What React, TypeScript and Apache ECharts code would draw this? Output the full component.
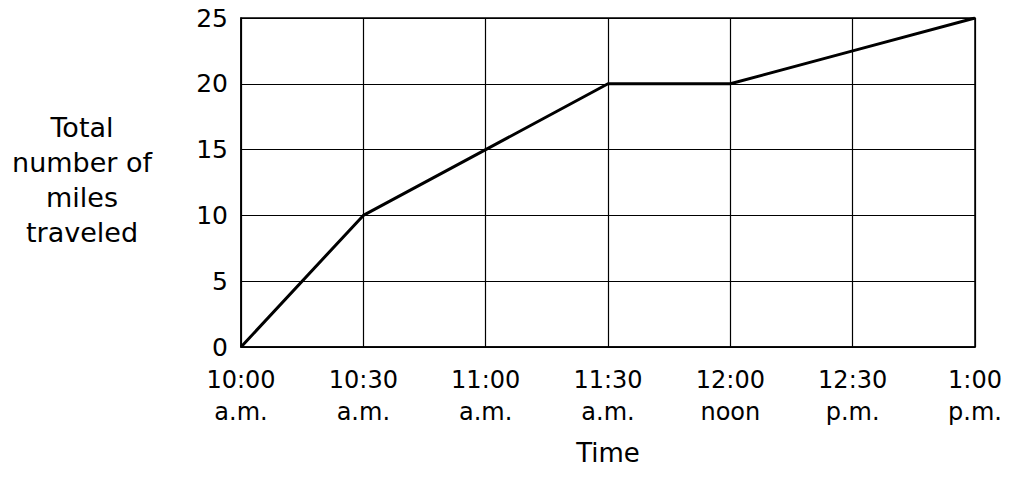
import React, { useEffect, useRef } from "react";
import * as echarts from "echarts";

const categories = ["10:00\na.m.", "10:30\na.m.", "11:00\na.m.", "11:30\na.m.", "12:00\nnoon", "12:30\np.m.", "1:00\np.m."];
const miles = [0, 10, 15, 20, 20, 22.5, 25];
const yTicks = [0, 5, 10, 15, 20, 25];
const yTitle = "Total\nnumber of\nmiles\ntraveled";
const xTitle = "Time";

export default function App() {
  const ref = useRef<HTMLDivElement>(null);
  useEffect(() => {
    if (!ref.current) return;
    const chart = echarts.init(ref.current, null, { renderer: "svg" });
    const font = "'DejaVu Sans', 'Liberation Sans', Arial, sans-serif";
    chart.setOption({
      animation: false,
      backgroundColor: "#ffffff",
      textStyle: { fontFamily: font },
      grid: { left: 241, right: 39, top: 18, bottom: 133, show: true, borderColor: "#000", borderWidth: 1.5 },
      xAxis: {
        type: "category",
        data: categories,
        boundaryGap: false,
        axisLine: { show: true, lineStyle: { color: "#000", width: 1.5 } },
        axisTick: { show: false },
        axisLabel: { color: "#000", fontSize: 24, lineHeight: 32, margin: 17, fontFamily: font },
        splitLine: { show: true, lineStyle: { color: "#000", width: 1.2 } },
        name: xTitle,
        nameLocation: "middle",
        nameGap: 93,
        nameTextStyle: { color: "#000", fontSize: 26, fontFamily: font },
      },
      yAxis: {
        type: "value",
        min: yTicks[0],
        max: yTicks[yTicks.length - 1],
        interval: 5,
        axisLine: { show: true, lineStyle: { color: "#000", width: 1.5 } },
        axisTick: { show: false },
        axisLabel: { color: "#000", fontSize: 25, margin: 13, fontFamily: font },
        splitLine: { show: true, lineStyle: { color: "#000", width: 1.2 } },
      },
      graphic: [
        {
          type: "text",
          x: 82,
          y: 110,
          style: {
            text: yTitle,
            fill: "#000",
            font: `27px ${font}`,
            lineHeight: 35,
            textAlign: "center",
            textVerticalAlign: "top",
          },
        },
      ],
      series: [
        {
          type: "line",
          data: miles,
          symbol: "none",
          lineStyle: { color: "#000", width: 3 },
        },
      ],
    });
    return () => chart.dispose();
  }, []);
  return <div ref={ref} style={{ position: "fixed", left: 0, top: 0, width: 1014, height: 480 }} />;
}
